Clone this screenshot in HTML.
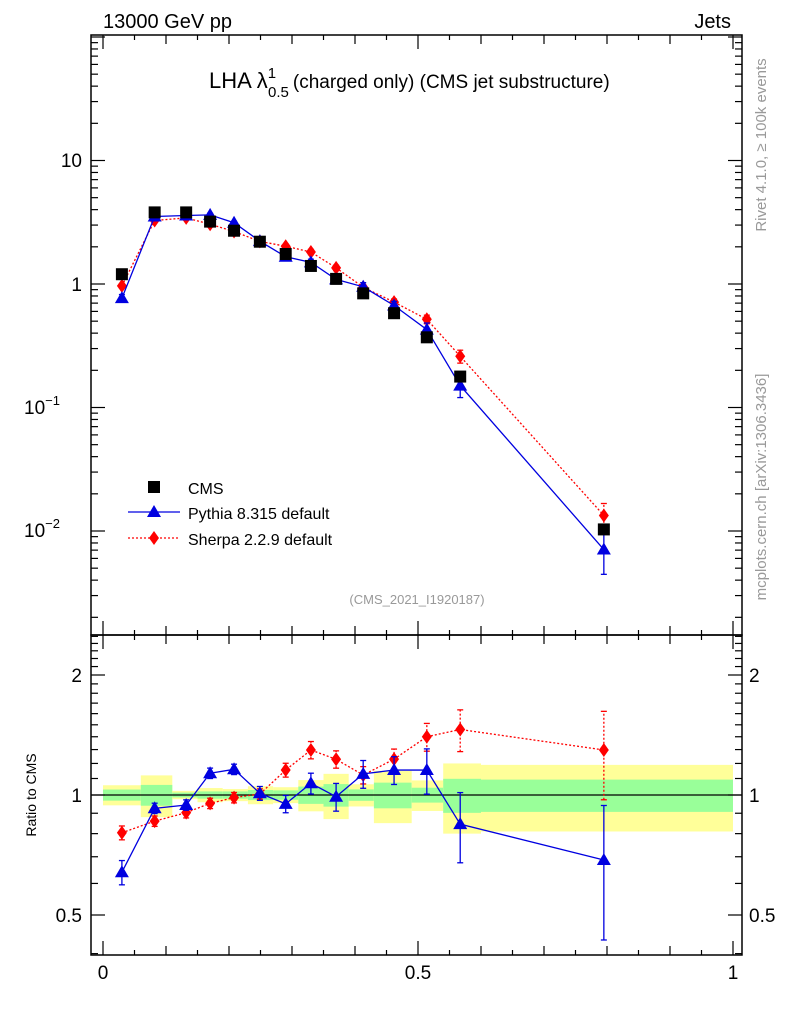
<!DOCTYPE html>
<html><head><meta charset="utf-8"><style>
body{margin:0;background:#fff}
svg{display:block;font-family:"Liberation Sans",sans-serif}
</style></head><body>
<svg id="c" width="786" height="1024" viewBox="0 0 786 1024"></svg>
<script>
const xCenters=[0.03,0.082,0.132,0.17,0.208,0.249,0.29,0.33,0.37,0.413,0.462,0.514,0.567,0.795];
const binEdges=[0,0.06,0.11,0.15,0.19,0.23,0.27,0.31,0.35,0.39,0.43,0.49,0.54,0.6,1.0];
const cmsVals=[1.2,3.8,3.8,3.2,2.7,2.2,1.75,1.4,1.1,0.84,0.58,0.37,0.178,0.0103];
const cmsErrTot=[0.058,0.12,0.024,0.041,0.035,0.052,0.046,0.09,0.13,0.064,0.15,0.088,0.2,0.19];
const cmsErrStat=[0.032,0.06,0.014,0.021,0.021,0.029,0.027,0.05,0.065,0.033,0.074,0.043,0.098,0.093];
const pythiaRatio=[0.64,0.926,0.944,1.134,1.16,1.01,0.95,1.07,0.99,1.13,1.155,1.155,0.845,0.687];
const pythiaErr=[0.07,0.03,0.03,0.03,0.03,0.04,0.05,0.06,0.08,0.08,0.08,0.13,0.2,0.37];
const sherpaRatio=[0.804,0.86,0.903,0.953,0.985,1.006,1.155,1.297,1.229,1.122,1.23,1.4,1.46,1.297];
const sherpaErr=[0.04,0.03,0.03,0.03,0.03,0.03,0.04,0.05,0.05,0.05,0.06,0.08,0.12,0.25];

const svg=document.getElementById('c');
const NS='http://www.w3.org/2000/svg';
function el(t,a,p){const e=document.createElementNS(NS,t);for(const k in a)e.setAttribute(k,a[k]);(p||svg).appendChild(e);return e;}
const L=91,R=742,T=35,M=635,B=955;
const xs=v=>103+v*630;
const ys=v=>284-Math.log10(v)*123.5;
const yr=v=>795-Math.log2(v)*120;

const gBand=el('g',{});


for(let i=0;i<cmsVals.length;i++){
  const x0=xs(binEdges[i]),x1=xs(binEdges[i+1]);
  const y=el('rect',{x:x0,y:yr(1+cmsErrTot[i]),width:x1-x0,height:yr(1-cmsErrTot[i])-yr(1+cmsErrTot[i]),fill:'#ffff99'},gBand);
  
  
  const g=el('rect',{x:x0,y:yr(1+cmsErrStat[i]),width:x1-x0,height:yr(1-cmsErrStat[i])-yr(1+cmsErrStat[i]),fill:'#99ff99'},gBand);
  
  
}
const one=el('line',{x1:L,x2:R,y1:yr(1),y2:yr(1),stroke:'#000','stroke-width':1.2});



function marker(type,cx,cy,parent){
  let e;
  if(type==='sq')e=el('rect',{x:cx-6,y:cy-6,width:12,height:12,fill:'#000'},parent);
  else if(type==='tri')e=el('polygon',{points:`${cx},${cy-7} ${cx+7},${cy+5} ${cx-7},${cy+5}`,fill:'#0000e0'},parent);
  else e=el('polygon',{points:`${cx},${cy-7} ${cx+5},${cy} ${cx},${cy+7} ${cx-5},${cy}`,fill:'#f00'},parent);
  return e;
}
function series(name,vals,errs,yf,type,color,dash,pts){
  const g=el('g',{});
  
  
  const p=vals.map((v,i)=>xs(xCenters[i])+','+yf(v)).join(' ');
  el('polyline',{points:p,fill:'none',stroke:color,'stroke-width':1.3,'stroke-dasharray':dash||'none'},g);
  vals.forEach((v,i)=>{
    const cx=xs(xCenters[i]);
    const lo=yf(v*(1-errs[i])),hi=yf(v*(1+errs[i]));
    el('line',{x1:cx,x2:cx,y1:lo,y2:hi,stroke:color,'stroke-width':1.3,'stroke-dasharray':dash||'none'},g);
    el('line',{x1:cx-3,x2:cx+3,y1:lo,y2:lo,stroke:color,'stroke-width':1.3},g);
    el('line',{x1:cx-3,x2:cx+3,y1:hi,y2:hi,stroke:color,'stroke-width':1.3},g);
    const m=marker(type,cx,yf(v),g);
    
    
  });
}
const pyMain=cmsVals.map((v,i)=>v*pythiaRatio[i]);
const shMain=cmsVals.map((v,i)=>v*sherpaRatio[i]);
series('sherpa-main',shMain,sherpaErr,ys,'dia','#f00','2,2','sherpa');
series('pythia-main',pyMain,pythiaErr,ys,'tri','#0000e0',null,'pythia');
const gc=el('g',{});


cmsVals.forEach((v,i)=>{const m=marker('sq',xs(xCenters[i]),ys(v),gc);});
series('sherpa-ratio',sherpaRatio,sherpaErr,yr,'dia','#f00','2,2','sherpa');
series('pythia-ratio',pythiaRatio,pythiaErr,yr,'tri','#0000e0',null,'pythia');

const f1=el('rect',{x:L,y:T,width:R-L,height:M-T,fill:'none',stroke:'#000','stroke-width':1.5});

const f2=el('rect',{x:L,y:M,width:R-L,height:B-M,fill:'none',stroke:'#000','stroke-width':1.5});


const tg=el('g',{stroke:'#000','stroke-width':1.2});

for(let k=0;k<=20;k++){
  const v=k*0.05,x=xs(v);
  const len=(k%10===0)?14:(k%2===0?9:5);
  [[T,1],[M,-1],[M,1],[B,-1]].forEach(([y,d])=>el('line',{x1:x,x2:x,y1:y,y2:y+d*len},tg));
}
for(let d=-3;d<=2;d++)for(let m=1;m<10;m++){
  const v=m*Math.pow(10,d),y=ys(v);if(y<T||y>M)continue;
  const len=m===1?14:7;
  el('line',{x1:L,x2:L+len,y1:y,y2:y},tg);el('line',{x1:R,x2:R-len,y1:y,y2:y},tg);
}
const rt=[0.4,0.5,0.6,0.7,0.8,0.9,1,1.1,1.2,1.3,1.4,1.5,1.6,1.7,1.8,1.9,2,2.1,2.2,2.3,2.4,2.5];
rt.forEach(v=>{const y=yr(v);if(y<M||y>B)return;const len=(v===0.5||v===1||v===2)?14:7;
  el('line',{x1:L,x2:L+len,y1:y,y2:y},tg);el('line',{x1:R,x2:R-len,y1:y,y2:y},tg);});

function txt(s,a,name){const e=el('text',a);e.textContent=s;return e;}
const xl=['0','0.5','1'],xv=[0,0.5,1];
xv.forEach((v,i)=>txt(xl[i],{x:xs(v),y:979,'font-size':19,'text-anchor':'middle'},'x-tick-label'));
txt('10',{x:82,y:167,'font-size':19,'text-anchor':'end'},'y-tick-label');
txt('1',{x:82,y:291,'font-size':19,'text-anchor':'end'},'y-tick-label');
[['−1',407],['−2',530]].forEach(([e,y])=>{const t=txt('10',{x:60,y:y+7,'font-size':19,'text-anchor':'end'},'y-tick-label');
  const s=el('tspan',{dy:-9,'font-size':13});s.textContent=e;t.appendChild(s);});
const rl=['0.5','1','2'],rv=[0.5,1,2];
rv.forEach((v,i)=>{txt(rl[i],{x:82,y:yr(v)+7,'font-size':19,'text-anchor':'end'},'ratio-tick-label');
  txt(rl[i],{x:749,y:yr(v)+7,'font-size':19},'ratio-tick-label-right');});
txt('13000 GeV pp',{x:103,y:28,'font-size':20},'energy-label');
txt('Jets',{x:731,y:28,'font-size':20,'text-anchor':'end'},'process-label');
const tt=txt('LHA λ',{x:209,y:88,'font-size':22},'plot-title');
const s1=el('tspan',{dy:-10,'font-size':15});s1.textContent='1';tt.appendChild(s1);
const s2=el('tspan',{dx:-8,dy:19,'font-size':15});s2.textContent='0.5';tt.appendChild(s2);
const s3=el('tspan',{dx:4,dy:-9,'font-size':19});s3.textContent='(charged only) (CMS jet substructure)';tt.appendChild(s3);
txt('(CMS_2021_I1920187)',{x:417,y:604,'font-size':13,fill:'#999','text-anchor':'middle'},'analysis-id');
txt('Rivet 4.1.0, ≥ 100k events',{x:0,y:0,'font-size':15,fill:'#999','text-anchor':'middle',transform:'translate(766,145) rotate(-90)'},'rivet-label');
txt('mcplots.cern.ch [arXiv:1306.3436]',{x:0,y:0,'font-size':15,fill:'#999','text-anchor':'middle',transform:'translate(766,487) rotate(-90)'},'mcplots-label');
txt('Ratio to CMS',{x:0,y:0,'font-size':14,'text-anchor':'middle',transform:'translate(36,795) rotate(-90)'},'ratio-axis-title');
const lg=el('g',{});
marker('sq',154,487,lg);txt('CMS',{x:188,y:494,'font-size':16},'legend-cms');
el('line',{x1:128,x2:180,y1:512,y2:512,stroke:'#0000e0','stroke-width':1.3},lg);marker('tri',154,512,lg);
txt('Pythia 8.315 default',{x:188,y:519,'font-size':16},'legend-pythia');
el('line',{x1:128,x2:180,y1:538,y2:538,stroke:'#f00','stroke-width':1.3,'stroke-dasharray':'2,2'},lg);marker('dia',154,538,lg);
txt('Sherpa 2.2.9 default',{x:188,y:545,'font-size':16},'legend-sherpa');
</script>
</body></html>
